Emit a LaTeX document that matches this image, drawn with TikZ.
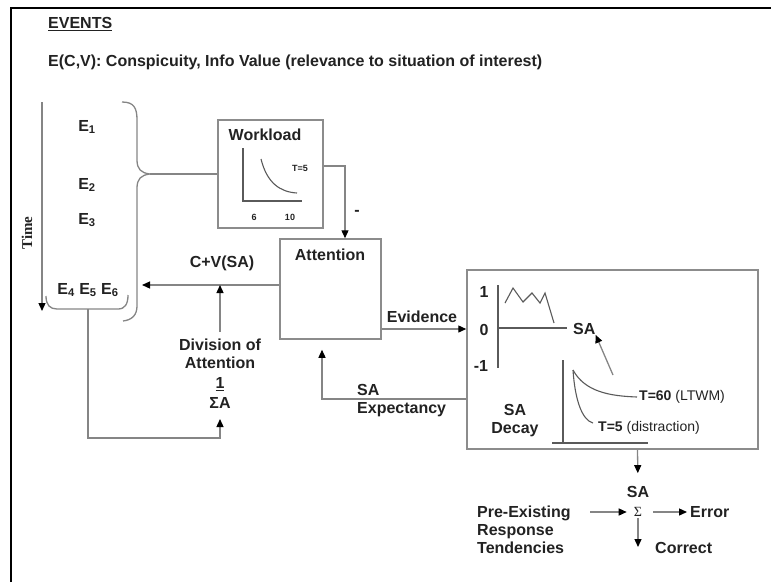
\documentclass[tikz,border=0pt]{standalone}
\usepackage{fontspec}
\setmainfont{Liberation Sans}
\newfontfamily\serifface{Liberation Serif}
\usetikzlibrary{arrows.meta,calc}
\definecolor{ink}{HTML}{222222}
\definecolor{wirec}{HTML}{858585}
\definecolor{framec}{HTML}{8C8C8C}
\definecolor{axisc}{HTML}{5A5A5A}

\begin{document}
\begin{tikzpicture}[x=1pt,y=-1pt,
  txt/.style={font=\fontsize{16}{18}\selectfont\bfseries, text=ink, inner sep=0pt},
  small/.style={font=\fontsize{9}{10}\selectfont\bfseries, text=ink, inner sep=0pt},
  mid/.style={font=\fontsize{14}{16}\selectfont, text=ink, inner sep=0pt},
  wire/.style={draw=wirec, line width=1.3pt},
  arr/.style={wire, -{Triangle[length=8pt,width=7pt,color=black]}},
  panel/.style={draw=framec, line width=1.5pt, inner sep=0pt},
  axisline/.style={draw=axisc, line width=1.5pt},
  curve/.style={draw=axisc, line width=1.1pt},
]
\useasboundingbox (0,0) rectangle (771,582);

% outer frame (left and top only)
\draw[black, line width=2.5pt] (11,582) -- (11,8) -- (771,8);

% heading
\node[txt, anchor=west] (events) at (48,24) {\underline{EVENTS}};
\node[txt, anchor=west] (ecv) at (48,62) {E(C,V): Conspicuity, Info Value (relevance to situation of interest)};

% time axis and event list
\node[font=\serifface\fontsize{15}{18}\selectfont\bfseries, text=ink, rotate=90, inner sep=0pt] (time) at (27,233) {Time};
\coordinate (t0) at (42,102);
\coordinate (t1) at (42,311);
\draw[arr] (t0) -- (t1);

\node[txt] (e1) at (87,127) {E\textsubscript{1}};
\node[txt] (e2) at (87,185) {E\textsubscript{2}};
\node[txt] (e3) at (87,220) {E\textsubscript{3}};
\node[txt] (e456) at (88,290) {E\textsubscript{4} E\textsubscript{5} E\textsubscript{6}};

% braces grouping the events
\coordinate (btip) at (150,174);
\draw[wire] (122,102) .. controls (134,102) and (137,108) .. (137,120) -- (137,160)
  .. controls (137,169) and (141,173) .. (btip)
  .. controls (141,175) and (137,179) .. (137,188) -- (137,306)
  .. controls (137,315) and (132,320) .. (123,321);
\draw[wire] (46,296) .. controls (46,305) and (50,309) .. (57,309) -- (118,309)
  .. controls (125,309) and (128,304) .. (128,295);
\coordinate (sbb) at (88,309);

% workload panel
\node[panel, minimum width=105pt, minimum height=108pt] (wl) at (270.5,174) {};
\node[txt] (wltitle) at (265,135) {Workload};
\draw[axisline] (243,148) -- (243,201) -- (302,201);
\draw[curve] (261,159) .. controls (267,183) and (280,192) .. (297,193);
\node[small] (wlt) at (300,168) {T=5};
\node[small] (wl6) at (254,217) {6};
\node[small] (wl10) at (290,217) {10};
\draw[wire] (btip) -- (wl.west);

% attention
\node[panel, minimum width=101pt, minimum height=100pt] (att) at (330.5,289) {};
\node[txt] (atttitle) at (330,255) {Attention};
\draw[arr] ([yshift=8pt]wl.east) -| ([xshift=14.5pt]att.north);
\node[txt] (minus) at (357,213) {-};

\coordinate (cvtip) at (142,285);
\draw[arr] ([yshift=4pt]att.west) -- (cvtip);
\node[txt] (cv) at (222,263) {C+V(SA)};

\node[txt, align=center] (div) at (220,374) {Division of\\Attention\\[2pt]\underline{1}\\[2pt]ΣA};
\draw[arr] ([yshift=7pt]div.north) -- (div.north |- cvtip);
\coordinate (loopc) at (88,438);
\draw[arr, shorten >=10pt] (sbb) -- (loopc) -| (div.south);

% situation awareness panel
\node[panel, minimum width=291pt, minimum height=179pt] (sabox) at (612.5,359.5) {};

\coordinate (evi) at ([yshift=-40pt]att.east);
\draw[arr] (evi) -- (evi -| sabox.west);
\node[txt] (evlab) at (422,317) {Evidence};

\coordinate (expc) at ([yshift=-39.5pt]sabox.west);
\draw[arr, shorten >=10pt] (expc) -| ([xshift=-8.5pt]att.south);
\node[txt, align=left, anchor=west] (explab) at (357,401) {SA\\Expectancy};

% SA level plot
\draw[axisline] (498,285) -- (498,368);
\draw[axisline] (498,328) -- (567,328);
\node[txt] (y1) at (484,292) {1};
\node[txt] (y0) at (484,330) {0};
\node[txt] (ym1) at (481,366) {-1};
\draw[curve] (505,303) -- (513,288) -- (523,302) -- (532,293) -- (540,303) -- (545,293) -- (554,323);
\node[txt, anchor=west] (salab) at (573,329) {SA};
\coordinate (decayptr) at (613,375);
\draw[wire, -{Triangle[length=8pt,width=7pt,color=black]}] (decayptr) -- (salab.south east);

% SA decay plot
\draw[axisline] (563,360) -- (563,443);
\draw[axisline] (552,443) -- (648,443);
\draw[curve] (573,370) .. controls (585,392) and (610,396) .. (637,397);
\draw[curve] (573,370) .. controls (575,400) and (582,420) .. (593,423);
\node[mid, anchor=west] (t60) at (639,397) {\bfseries T=60 \mdseries(LTWM)};
\node[mid, anchor=west] (t5) at (598,428) {\bfseries T=5 \mdseries(distraction)};
\node[txt, align=center] (decaylab) at (515,421) {SA\\Decay};

% response stage
\node[txt] (saout) at (638,492) {SA};
\node[font=\serifface\fontsize{14}{16}\selectfont, text=ink, inner sep=1pt] (sig) at (638,512) {Σ};
\draw[arr, shorten >=13pt] ([xshift=25pt]sabox.south) -- (saout.north);
\node[txt, align=left, anchor=west] (pre) at (477,530) {Pre-Existing\\Response\\Tendencies};
\node[txt, anchor=west] (err) at (690,512) {Error};
\node[txt, anchor=west] (corr) at (655,548) {Correct};
\coordinate (prestart) at (590,512);
\coordinate (cortip) at (638,547);
\draw[arr, shorten >=6pt] (prestart) -- (sig.west);
\draw[arr, shorten <=10pt, shorten >=3pt] (sig.east) -- (err.west);
\draw[arr] (sig.south) -- (cortip);
\end{tikzpicture}
\end{document}
